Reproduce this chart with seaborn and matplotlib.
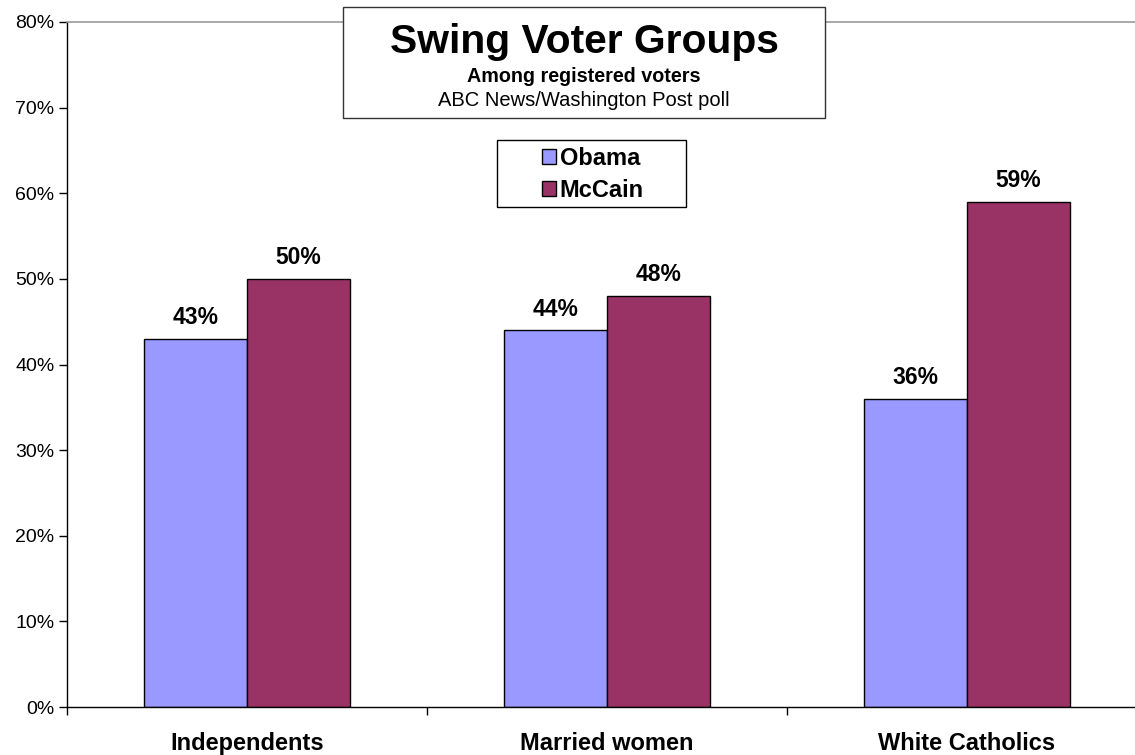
import numpy as np
import pandas as pd
import seaborn as sns
import matplotlib.pyplot as plt

from matplotlib.patches import Patch, Rectangle
from matplotlib.ticker import FixedLocator, PercentFormatter

groups = ["Independents", "Married women", "White Catholics"]
obama = [43, 44, 36]
mccain = [50, 48, 59]
candidates = ["Obama", "McCain"]
y_ticks = [0, 10, 20, 30, 40, 50, 60, 70, 80]

palette = {"Obama": "#9999FF", "McCain": "#993366"}

sns.set_style("white")
plt.rcParams["font.family"] = ["Liberation Sans", "DejaVu Sans"]
plt.rcParams["text.color"] = "black"
plt.rcParams["xtick.color"] = "black"
plt.rcParams["ytick.color"] = "black"

df = pd.DataFrame(
    {
        "group": groups * 2,
        "candidate": ["Obama"] * 3 + ["McCain"] * 3,
        "value": obama + mccain,
    }
)

W, H = 1135, 755
fig = plt.figure(figsize=(W / 100, H / 100), dpi=100)
ax = fig.add_axes([67 / W, 48 / H, 1080 / W, 685 / H])

sns.barplot(
    data=df,
    x="group",
    y="value",
    hue="candidate",
    hue_order=candidates,
    order=groups,
    palette=palette,
    saturation=1,
    width=0.57,
    gap=0,
    edgecolor="black",
    linewidth=1.0,
    ax=ax,
    legend=False,
    zorder=2,
)

# value labels above the bars
for cont in ax.containers:
    ax.bar_label(
        cont,
        labels=[f"{int(v)}%" for v in cont.datavalues],
        padding=7,
        fontsize=16.5,
        fontweight="bold",
        color="black",
    )

ax.set_xlim(-0.5, 2.5)
ax.set_ylim(0, 80)
ax.yaxis.set_major_locator(FixedLocator(y_ticks))
ax.yaxis.set_major_formatter(PercentFormatter(decimals=0))

# ticks between groups, labels at centres
ax.xaxis.set_major_locator(FixedLocator([-0.5, 0.5, 1.5, 2.5]))
ax.xaxis.set_minor_locator(FixedLocator([0, 1, 2]))
ax.set_xticklabels([], minor=False)
ax.set_xticklabels(groups, minor=True, fontsize=17, fontweight="bold")
ax.tick_params(axis="x", which="major", length=6, width=1, direction="out")
ax.tick_params(axis="x", which="minor", length=0, pad=18)
ax.tick_params(axis="y", length=6, width=1, direction="out", labelsize=14, pad=3)
ax.xaxis.set_ticks_position("bottom")
ax.yaxis.set_ticks_position("left")

ax.set_xlabel("")
ax.set_ylabel("")

for side in ["left", "bottom"]:
    ax.spines[side].set_color("black")
    ax.spines[side].set_linewidth(1.0)
ax.spines["top"].set_color("#999999")
ax.spines["top"].set_linewidth(1.2)
ax.spines["right"].set_visible(False)


def fig_box(x0, x1, y0, y1, ec):
    fig.patches.append(
        Rectangle(
            (x0 / W, 1 - y1 / H),
            (x1 - x0) / W,
            (y1 - y0) / H,
            transform=fig.transFigure,
            facecolor="white",
            edgecolor=ec,
            linewidth=1.0,
            zorder=5,
        )
    )


# title box
fig_box(343, 825, 7, 118, "#333333")
cx = (343 + 825) / 2 / W
fig.text(cx, 1 - 53 / H, "Swing Voter Groups", ha="center", va="baseline",
         fontsize=29.3, fontweight="bold", zorder=6)
fig.text(cx, 1 - 82 / H, "Among registered voters", ha="center", va="baseline",
         fontsize=14.2, fontweight="bold", zorder=6)
fig.text(cx, 1 - 106 / H, "ABC News/Washington Post poll", ha="center", va="baseline",
         fontsize=14.5, zorder=6)

# legend
fig_box(497, 686, 140, 207, "black")
handles = [
    Patch(facecolor=palette[c], edgecolor="black", linewidth=1.0, label=c)
    for c in candidates
]
leg = fig.legend(
    handles=handles,
    loc="center",
    bbox_to_anchor=(593 / W, 1 - 174.5 / H),
    bbox_transform=fig.transFigure,
    frameon=False,
    prop={"size": 17, "weight": "bold"},
    handlelength=0.6,
    handleheight=0.6,
    handletextpad=0.15,
    labelspacing=0.4,
    borderpad=0,
    borderaxespad=0,
)
leg.set_zorder(7)

fig.savefig("out.png", dpi=100)
